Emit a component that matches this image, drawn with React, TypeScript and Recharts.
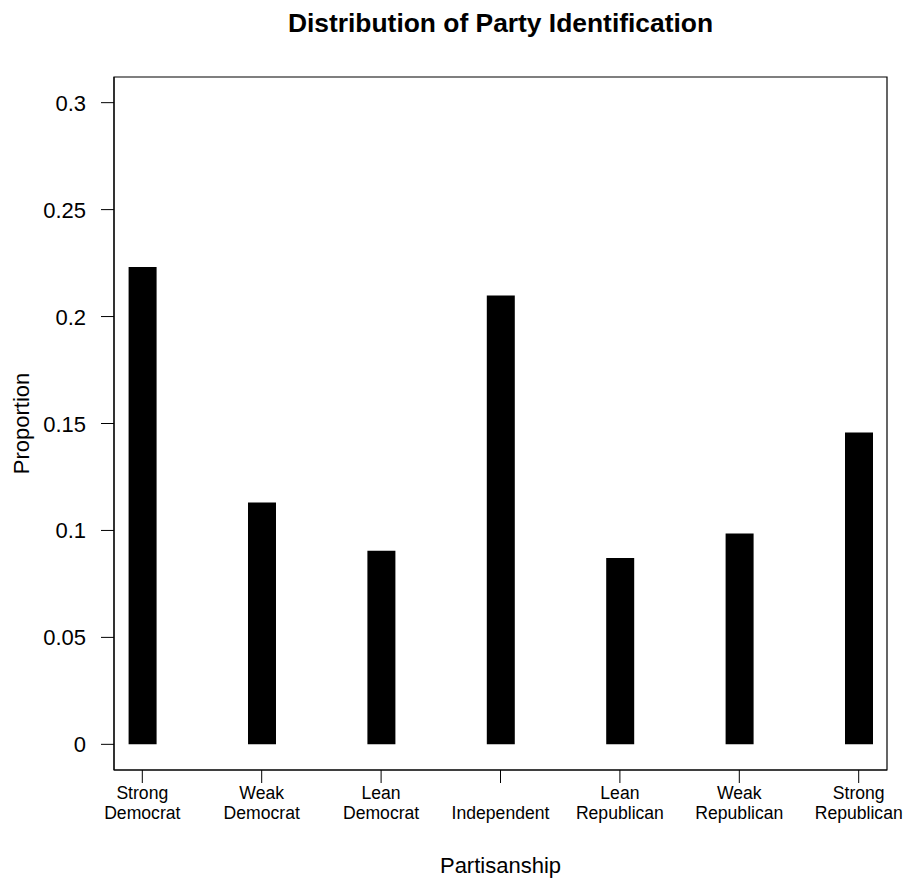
import { BarChart, Bar, XAxis, YAxis, ReferenceArea } from 'recharts';

// party id proportions
const categories = [
  ['Strong', 'Democrat'],
  ['Weak', 'Democrat'],
  ['Lean', 'Democrat'],
  ['', 'Independent'],
  ['Lean', 'Republican'],
  ['Weak', 'Republican'],
  ['Strong', 'Republican'],
];
const positions = [1, 2, 3, 4, 5, 6, 7];
const proportions = [0.2232, 0.1131, 0.0905, 0.2098, 0.0871, 0.0986, 0.1458];
const yTicks = [0, 0.05, 0.1, 0.15, 0.2, 0.25, 0.3];
const yTickLabels = ['0', '0.05', '0.1', '0.15', '0.2', '0.25', '0.3'];

const data = positions.map((pos, i) => ({ pos, value: proportions[i] }));

const X_DOMAIN: [number, number] = [0.763, 7.237];
const Y_DOMAIN: [number, number] = [-0.012, 0.312];
const FONT = '"Liberation Sans", Arial, Helvetica, sans-serif';

const XTick = (props: any) => {
  const { x, y, payload } = props;
  const lines = categories[payload.value - 1];
  if (!lines) return null;
  return (
    <g>
      {lines.map((line, i) =>
        line ? (
          <text
            key={i}
            x={x}
            y={y + 14 + i * 20}
            textAnchor="middle"
            fontSize={17.6}
            fontFamily={FONT}
            fill="#000"
          >
            {line}
          </text>
        ) : null
      )}
    </g>
  );
};

const YTick = (props: any) => {
  const { x, y, payload } = props;
  const idx = yTicks.indexOf(payload.value);
  return (
    <text x={x} y={y + 8} textAnchor="end" fontSize={22} fontFamily={FONT} fill="#000">
      {idx >= 0 ? yTickLabels[idx] : payload.value}
    </text>
  );
};

const YLabel = (props: any) => {
  const { viewBox } = props;
  const cx = 29;
  const cy = viewBox.y + viewBox.height / 2;
  return (
    <text
      x={cx}
      y={cy}
      transform={`rotate(-90, ${cx}, ${cy})`}
      textAnchor="middle"
      fontSize={22}
      fontFamily={FONT}
      fill="#000"
    >
      Proportion
    </text>
  );
};

const XLabel = (props: any) => {
  const { viewBox } = props;
  return (
    <text
      x={viewBox.x + viewBox.width / 2}
      y={viewBox.y + 103}
      textAnchor="middle"
      fontSize={22}
      fontFamily={FONT}
      fill="#000"
    >
      Partisanship
    </text>
  );
};

export default function App() {
  return (
    <div style={{ position: 'absolute', left: 0, top: 0, width: 910, height: 882, background: '#fff' }}>
      <svg width={910} height={60} style={{ position: 'absolute', left: 0, top: 0 }}>
        <text
          x={500.5}
          y={32}
          textAnchor="middle"
          fontSize={26.4}
          fontWeight="bold"
          fontFamily={FONT}
          fill="#000"
        >
          Distribution of Party Identification
        </text>
      </svg>
      <BarChart
        width={910}
        height={882}
        data={data}
        margin={{ top: 77, right: 23, bottom: 0, left: 0 }}
      >
        <XAxis
          dataKey="pos"
          type="number"
          domain={X_DOMAIN}
          ticks={positions}
          allowDataOverflow
          height={112}
          tickSize={13}
          tickMargin={2}
          stroke="#000"
          tick={<XTick />}
          interval={0}
          label={<XLabel />}
        />
        <YAxis
          type="number"
          domain={Y_DOMAIN}
          ticks={yTicks}
          allowDataOverflow
          width={114}
          tickSize={13}
          tickMargin={15}
          stroke="#000"
          tick={<YTick />}
          interval={0}
          label={<YLabel />}
        />
        <Bar dataKey="value" fill="#000" barSize={28} isAnimationActive={false} />
        <ReferenceArea
          x1={X_DOMAIN[0]}
          x2={X_DOMAIN[1]}
          y1={Y_DOMAIN[0]}
          y2={Y_DOMAIN[1]}
          fill="none"
          stroke="#000"
          strokeWidth={1.2}
          ifOverflow="visible"
        />
      </BarChart>
    </div>
  );
}
